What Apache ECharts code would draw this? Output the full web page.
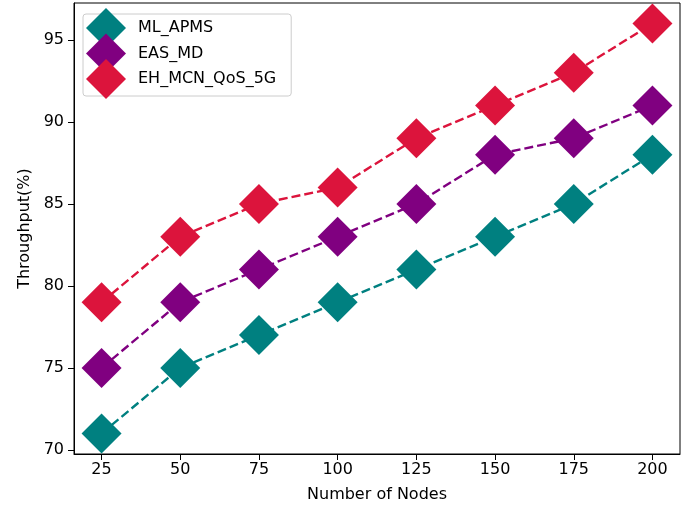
<!DOCTYPE html>
<html><head><meta charset="utf-8">
<script src="https://cdn.jsdelivr.net/npm/echarts@6/dist/echarts.min.js"></script>
<style>html,body{margin:0;padding:0;background:#fff}#c{width:685px;height:508px}</style>
</head><body><div id="c"></div>
<script>
const nodes = [25, 50, 75, 100, 125, 150, 175, 200];
const mlApms = [71, 75, 77, 79, 81, 83, 85, 88];
const easMd = [75, 79, 81, 83, 85, 88, 89, 91];
const ehMcn = [79, 83, 85, 86, 89, 91, 93, 96];
const seriesNames = ['ML_APMS', 'EAS_MD', 'EH_MCN_QoS_5G'];
const colors = ['#008080', '#800080', '#DC143C'];
const xTicks = [25, 50, 75, 100, 125, 150, 175, 200];
const yTicks = [70, 75, 80, 85, 90, 95];

const font = 'DejaVu Sans';
const fs = 16;
const chart = echarts.init(document.getElementById('c'));
const mk = (name, vals, color) => ({
  name, type: 'line', data: nodes.map((n, i) => [n, vals[i]]),
  symbol: 'diamond', symbolSize: 40,
  lineStyle: {color, width: 2.4, type: [9, 4]},
  itemStyle: {color}, color, z: 3
});
chart.setOption({
  animation: false,
  textStyle: {fontFamily: font},
  grid: {left: 74, right: 5, top: 3, bottom: 54, show: true, borderColor: '#000', borderWidth: 1, backgroundColor: 'transparent'},
  xAxis: {
    type: 'value', min: 16.25, max: 208.75,
    name: 'Number of Nodes', nameLocation: 'middle', nameGap: 33,
    nameTextStyle: {fontFamily: font, fontSize: fs, color: '#000'},
    axisLine: {show: true, onZero: false, lineStyle: {color: '#000'}},
    axisTick: {show: true, length: 6, customValues: xTicks, lineStyle: {color: '#000'}},
    axisLabel: {customValues: xTicks, fontFamily: font, fontSize: fs, color: '#000', margin: 8},
    splitLine: {show: false}
  },
  yAxis: {
    type: 'value', min: 69.75, max: 97.25,
    name: 'Throughput(%)', nameLocation: 'middle', nameGap: 40,
    nameTextStyle: {fontFamily: font, fontSize: fs, color: '#000'},
    axisLine: {show: true, onZero: false, lineStyle: {color: '#000'}},
    axisTick: {show: true, length: 6, customValues: yTicks, lineStyle: {color: '#000'}},
    axisLabel: {customValues: yTicks, fontFamily: font, fontSize: fs, color: '#000', margin: 10},
    splitLine: {show: false}
  },
  legend: {
    left: 83, top: 14, orient: 'vertical',
    data: seriesNames.map((n, i) => ({name: n, icon: 'diamond', itemStyle: {color: colors[i]}})),
    itemWidth: 40, itemHeight: 40, itemGap: -14.5,
    padding: [-6, 15, -3, 3],
    backgroundColor: 'rgba(255,255,255,0.8)', borderColor: '#ccc', borderWidth: 1, borderRadius: 3,
    textStyle: {fontFamily: font, fontSize: fs, color: '#000', padding: [0, 0, 0, 7]},
    lineStyle: {opacity: 0}
  },
  series: [mk(seriesNames[0], mlApms, colors[0]), mk(seriesNames[1], easMd, colors[1]), mk(seriesNames[2], ehMcn, colors[2])]
});
</script></body></html>
